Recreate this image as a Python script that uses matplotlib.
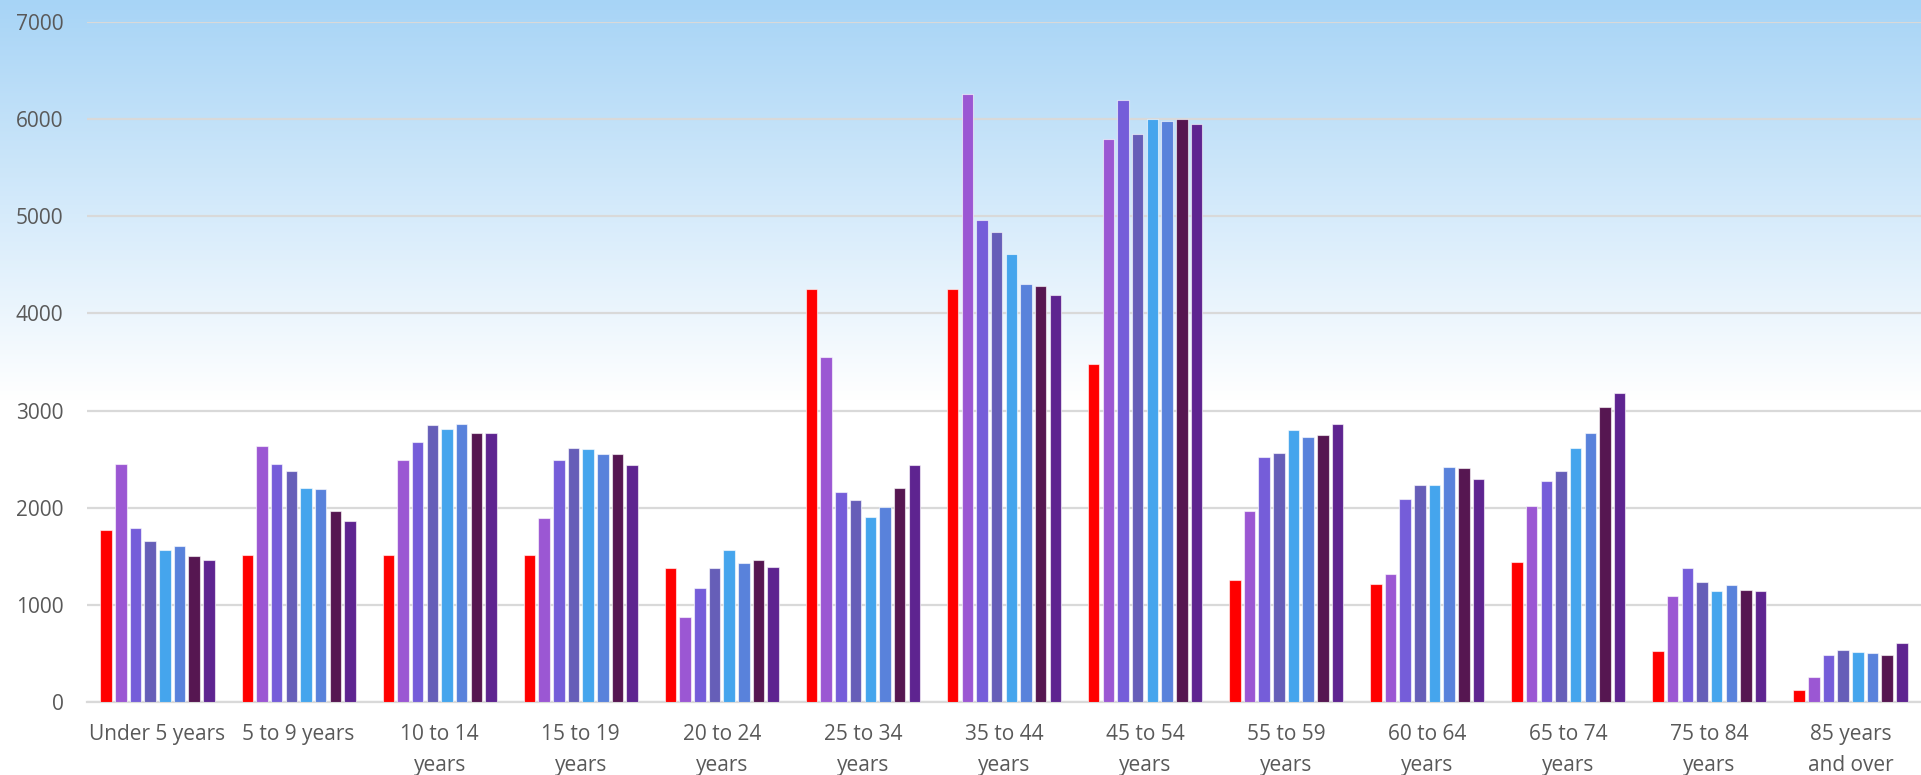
import numpy as np
import matplotlib
matplotlib.use("Agg")
import matplotlib.pyplot as plt

categories = ["Under 5 years", "5 to 9 years", "10 to 14\nyears", "15 to 19\nyears",
              "20 to 24\nyears", "25 to 34\nyears", "35 to 44\nyears", "45 to 54\nyears",
              "55 to 59\nyears", "60 to 64\nyears", "65 to 74\nyears", "75 to 84\nyears",
              "85 years\nand over"]

s1 = [1773, 1517, 1517, 1517, 1380, 4253, 4253, 3478, 1259, 1211, 1438, 526, 120]
s2 = [2450, 2634, 2496, 1891, 879, 3549, 6257, 5794, 1971, 1314, 2019, 1094, 258]
s3 = [1794, 2450, 2676, 2496, 1177, 2160, 4957, 6196, 2525, 2088, 2270, 1383, 488]
s4 = [1660, 2382, 2849, 2613, 1375, 2084, 4839, 5846, 2566, 2233, 2374, 1232, 537]
s5 = [1563, 2202, 2811, 2605, 1560, 1900, 4608, 6002, 2800, 2233, 2614, 1146, 519]
s6 = [1609, 2193, 2857, 2555, 1427, 2008, 4301, 5983, 2728, 2418, 2766, 1207, 506]
s7 = [1508, 1966, 2765, 2555, 1465, 2207, 4286, 6002, 2745, 2405, 3034, 1149, 488]
s8 = [1458, 1866, 2765, 2437, 1385, 2443, 4192, 5950, 2866, 2291, 3182, 1139, 609]

series = [s1, s2, s3, s4, s5, s6, s7, s8]
colors = ["#FF0000", "#9B57D3", "#755DD9", "#665EB8", "#45A5ED", "#5982DB", "#561651", "#5E2490"]

W, H = 1921, 775
fig = plt.figure(figsize=(W / 100, H / 100), dpi=100)

# background gradient
bg = fig.add_axes([0, 0, 1, 1], zorder=0)
bg.set_axis_off()
rows = np.linspace(0, 1, H)
top_col = np.array([167, 212, 246]) / 255.0
white = np.array([1.0, 1.0, 1.0])
fade_end = 400 / H
t = np.clip(rows / fade_end, 0, 1)[:, None]
grad = top_col * (1 - t) + white * t
img = np.repeat(grad[:, None, :], 4, axis=1)
bg.imshow(img, aspect="auto", extent=[0, 1, 0, 1], origin="upper")
bg.set_xlim(0, 1)
bg.set_ylim(0, 1)

left = 87 / W
bottom = (H - 702) / H
top = (H - 22) / H
ax = fig.add_axes([left, bottom, 1 - left, top - bottom], zorder=1)
ax.patch.set_alpha(0)

n = len(categories)
x = np.arange(n)
pitch = 0.104
bw = 0.0815
for k, (vals, c) in enumerate(zip(series, colors)):
    off = (k - 3.5) * pitch
    ax.bar(x + off, vals, width=bw, color=c, edgecolor=(1, 1, 1, 0.6), linewidth=0.8, zorder=3)

ax.set_xlim(-0.5, n - 0.5)
ax.set_ylim(0, 7000)
ax.set_yticks(range(0, 7001, 1000))
ax.yaxis.grid(True, color="#D9D9D9", linewidth=1.6, zorder=0)
ax.set_axisbelow(True)
for sp in ["top", "right", "left"]:
    ax.spines[sp].set_visible(False)
ax.spines["bottom"].set_color("#D9D9D9")
ax.spines["bottom"].set_linewidth(1.6)
ax.tick_params(axis="both", length=0, labelsize=15, labelcolor="#595959")
ax.tick_params(axis="y", pad=17)
ax.tick_params(axis="x", pad=16)
ax.set_xticks(x)
ax.set_xticklabels(categories, fontfamily="Open Sans", linespacing=1.6)
for lab in ax.get_yticklabels():
    lab.set_fontfamily("Open Sans")

fig.savefig("out.png", dpi=100)
